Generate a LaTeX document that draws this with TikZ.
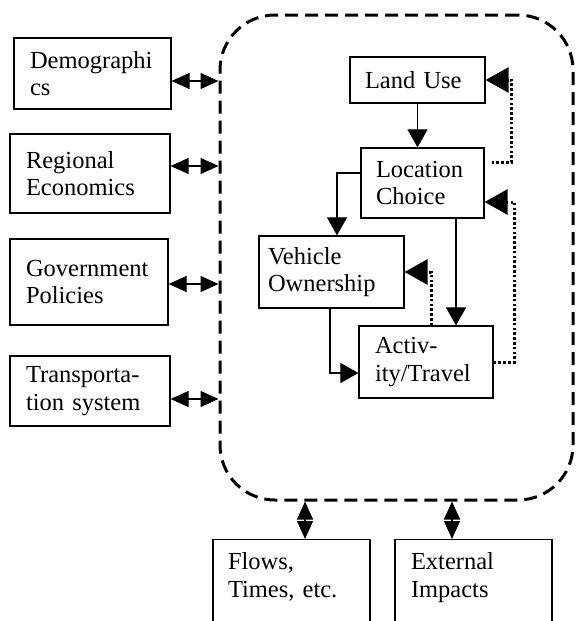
\documentclass[tikz,border=0pt]{standalone}
\usepackage{fontspec}
\setmainfont{Liberation Serif}
\usetikzlibrary{arrows.meta,calc}

\begin{document}
\begin{tikzpicture}[x=1pt,y=-1pt,font=\fontsize{24.5}{27.5}\selectfont,
	box/.style={draw,line width=1.2pt,align=left,inner ysep=0pt},
	arr/.style={-{Triangle[length=18pt,width=20pt]},line width=1.1pt},
	dotarr/.style={-{Triangle[length=23pt,width=25pt]},line width=3pt,dash pattern=on 2.6pt off 2.2pt},
	dbl/.style={{Triangle[length=18pt,width=16pt]}-{Triangle[length=18pt,width=16pt]},line width=1.1pt}]
	\useasboundingbox (0,0) rectangle (576,621);
	% model border
	\node[draw,line width=3pt,dash pattern=on 13pt off 7pt,rounded corners=55pt,inner sep=0pt,
		minimum width=353pt,minimum height=485pt] (model) at (396.5,257.5) {};
	% outside inputs
	\node[box,text width=125pt,inner xsep=16pt,minimum height=71pt] (demo) at (92.5,73.5) {Demographi\\cs};
	\node[box,text width=128pt,inner xsep=16pt,minimum height=79pt] (reg) at (90,173.5) {Regional\\Economics};
	\node[box,text width=126pt,inner xsep=16pt,minimum height=86pt] (gov) at (89,282) {Government\\Policies};
	\node[box,text width=128pt,inner xsep=16pt,minimum height=70pt] (trans) at (90,391) {Transporta-\\tion system};
	% inner models
	\node[box,text width=105pt,inner xsep=15pt,minimum height=46pt] (land) at (417.5,80) {Land Use};
	\node[box,text width=93pt,inner xsep=15pt,minimum height=70pt] (loc) at (422.5,183) {Location\\Choice};
	\node[box,text width=127pt,inner xsep=9pt,minimum height=72pt] (veh) at (331.5,272) {Vehicle\\Ownership};
	\node[box,text width=102pt,inner xsep=16pt,minimum height=72pt] (act) at (426,362) {Activ-\\ity/Travel};
	% outputs
	\node[box,text width=127pt,inner xsep=15pt,inner ysep=13pt,anchor=north] (flows) at (291.5,539) {Flows,\\Times, etc.\\\mbox{}\\\mbox{}};
	\node[box,text width=125pt,inner xsep=16pt,inner ysep=13pt,anchor=north] (ext) at (473.5,539) {External\\Impacts\\\mbox{}\\\mbox{}};
	% links to the border
	\foreach \n/\s in {demo/-7.5,reg/7.5,gov/-2,trans/-8}
		\draw[dbl] ([yshift=\s pt]\n.east) coordinate (tmp) -- (tmp -| model.west);
	\foreach \n/\s in {flows/13.5,ext/-21.5}
		\draw[dbl] ([xshift=\s pt]\n.north) coordinate (tmp) -- (tmp |- model.south);
	% solid links
	\draw[arr] (land.south) -- (land.south |- loc.north);
	\draw[arr] ([yshift=10pt]loc.west) -| ([xshift=5.5pt]veh.north);
	\draw[arr] ([xshift=33.5pt]loc.south) coordinate (tmp) -- (tmp |- act.north);
	\draw[arr] ([xshift=-1.5pt]veh.south) |- ([yshift=-11pt]act.west);
	% feedback
	\draw[dotarr] (act.east) -- ++(21,0) |- ([yshift=-19pt]loc.east);
	\draw[dotarr] ([xshift=7pt,yshift=21pt]loc.east) -- ++(20,0) |- (land.east);
	\draw[dotarr] ([xshift=5pt]act.north) |- (veh.east);
\end{tikzpicture}
\end{document}
